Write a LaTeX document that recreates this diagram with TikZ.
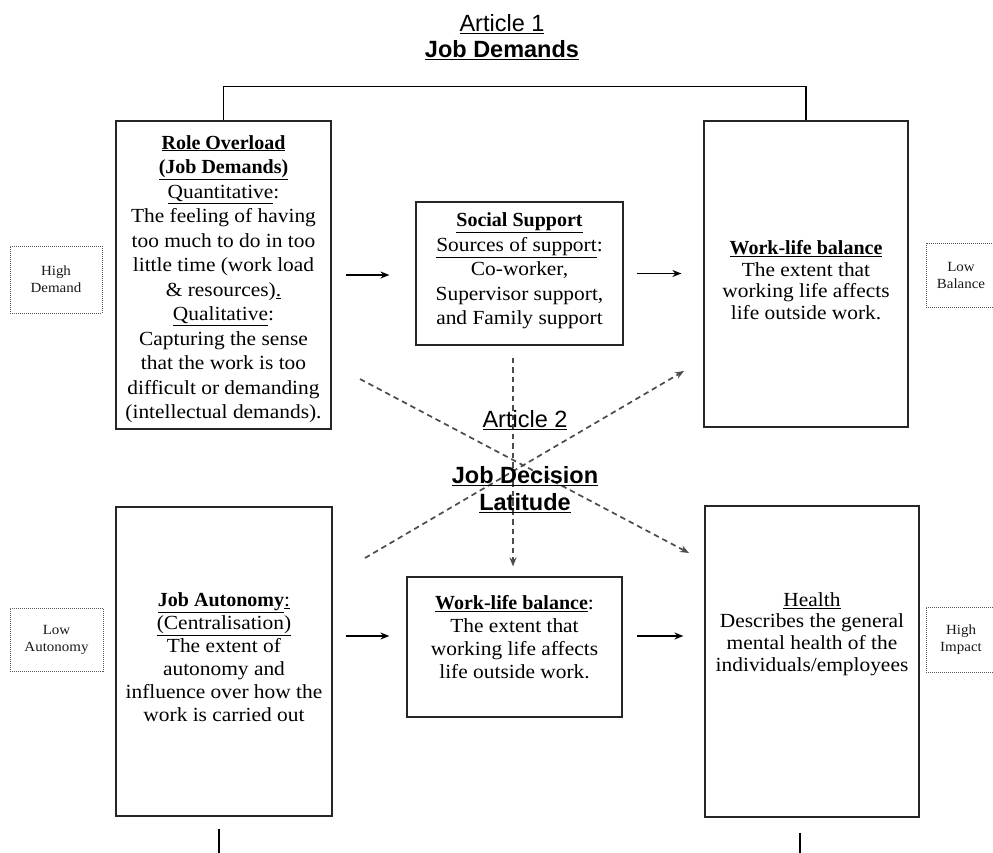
\documentclass[tikz,border=0pt]{standalone}
\usepackage{fontspec}
\setmainfont{Liberation Serif}[FakeStretch=1.07]
\newfontfamily\hb{Liberation Serif}
\newfontfamily\hs{Liberation Sans}
\usetikzlibrary{arrows.meta}
\newcommand\hd[1]{\underline{{\hb\bfseries #1}}}
\tikzset{
  box/.style={draw=black!85, line width=1.2pt, rectangle, inner sep=0pt},
  txt/.style={align=center, inner sep=0pt, font=\fontsize{20}{22.5}\selectfont},
  tag/.style={draw=black!65, line width=0.9pt, dash pattern=on 1pt off 1pt, rectangle, inner sep=0pt},
  tagtxt/.style={align=center, inner sep=0pt, text=black!90, font=\fontsize{14}{17}\selectfont},
  arr/.style={-{Stealth[length=9pt,width=7pt]}, line width=1.4pt, black},
  darr/.style={-{Stealth[length=9pt,width=7pt]}, line width=1.7pt, black!70, dash pattern=on 5.5pt off 4pt},
  plain/.style={line width=1.2pt, black},
  head/.style={inner sep=0pt, font=\hs\fontsize{23.5}{26}\selectfont}
}
\begin{document}
\begin{tikzpicture}[x=1pt,y=-1pt]
\useasboundingbox (0,0) rectangle (993,853);
% headings
\node[head] (art1) at (502,24) {\underline{Article 1}};
\node[head] (jd) at (502,50) {\underline{\bfseries Job Demands}};
% boxes
\node[box, minimum width=215pt, minimum height=308pt] (rolebox) at (223.5,275) {};
\node[box, minimum width=207pt, minimum height=143pt] (socbox) at (519.5,273.5) {};
\node[box, minimum width=204pt, minimum height=306pt] (wlbtop) at (806,274) {};
\node[box, minimum width=216pt, minimum height=309pt] (autobox) at (224,661.5) {};
\node[box, minimum width=215pt, minimum height=140pt] (wlbbot) at (514.5,647) {};
\node[box, minimum width=214pt, minimum height=311pt] (healthbox) at (812,661.5) {};
% tags
\node[tag, minimum width=92pt, minimum height=67pt] (hdem) at (56,279.5) {};
\node[tag, minimum width=70pt, minimum height=64pt] (lbal) at (961,275) {};
\node[tag, minimum width=93pt, minimum height=63pt] (laut) at (56.5,639.5) {};
\node[tag, minimum width=70pt, minimum height=65pt] (himp) at (961,639.5) {};
\node[tagtxt] (hdemt) at (hdem) {High\\Demand};
\node[tagtxt] (lbalt) at (lbal) {Low\\Balance};
\node[tagtxt] (lautt) at (laut) {Low\\Autonomy};
\node[tagtxt] (himpt) at (himp) {High\\Impact};
% top bracket and bottom lines
\draw[plain] (rolebox.north) -- ++(0,-34) -| (wlbtop.north);
\draw[plain] ([xshift=-5pt,yshift=-12pt]autobox.south) -- ++(0,40);
\draw[plain] ([xshift=-12pt,yshift=-15pt]healthbox.south) -- ++(0,40);
% solid arrows
\draw[arr] ([xshift=14pt]rolebox.east) -- ([xshift=-26pt]socbox.west |- rolebox.east);
\draw[arr] ([xshift=13pt]socbox.east) -- ([xshift=-22pt]wlbtop.west |- socbox.east);
\draw[arr] ([xshift=13pt,yshift=25.5pt]autobox.east) -- ([xshift=-17pt,yshift=11pt]wlbbot.west);
\draw[arr] ([xshift=14pt,yshift=11pt]wlbbot.east) -- ([xshift=-21pt,yshift=25.5pt]healthbox.west);
% dashed arrows
\coordinate (d1s) at (360,379);
\coordinate (d1e) at (689,553);
\coordinate (d2s) at (365,558);
\coordinate (d2e) at (684,371);
\draw[darr] (d1s) -- (d1e);
\draw[darr] (d2s) -- (d2e);
\draw[darr] ([xshift=-6.5pt,yshift=-12pt]socbox.south) -- ([xshift=-1.5pt,yshift=10pt]wlbbot.north);
% texts
\node[txt, font=\fontsize{20}{24.5}\selectfont] (rolet) at (223.5,279) {\hd{Role Overload}\\\hd{(Job Demands)}\\\underline{Quantitative}:\\The feeling of having\\too much to do in too\\little time (work load\\\& resources)\underline{.}\\\underline{Qualitative}:\\Capturing the sense\\that the work is too\\difficult or demanding\\(intellectual demands).};
\node[txt, font=\fontsize{20}{24.5}\selectfont] (soct) at (519.5,271) {\hd{Social Support}\\\underline{Sources of support}:\\Co-worker,\\Supervisor support,\\and Family support};
\node[txt, font=\fontsize{20}{21.5}\selectfont] (wlbtopt) at (806,280) {\hd{Work-life balance}\\The extent that\\working life affects\\life outside work.};
\node[txt, font=\fontsize{20}{23}\selectfont] (autot) at (224,657) {\hd{Job Autonomy}\underline{:}\\\underline{(Centralisation)}\\The extent of\\autonomy and\\influence over how the\\work is carried out};
\node[txt, font=\fontsize{20}{23}\selectfont] (wlbbott) at (514.5,637) {\hd{Work-life balance}:\\The extent that\\working life affects\\life outside work.};
\node[txt, font=\fontsize{20}{21.7}\selectfont] (healtht) at (812,634) {\underline{Health}\\Describes the general\\mental health of the\\individuals/employees};
% article 2
\node[head] (art2) at (525,420) {\underline{Article 2}};
\node[head, align=center, font=\hs\bfseries\fontsize{23.5}{27}\selectfont] (jdl) at (525,490) {\underline{Job Decision}\\\underline{Latitude}};
\end{tikzpicture}
\end{document}
